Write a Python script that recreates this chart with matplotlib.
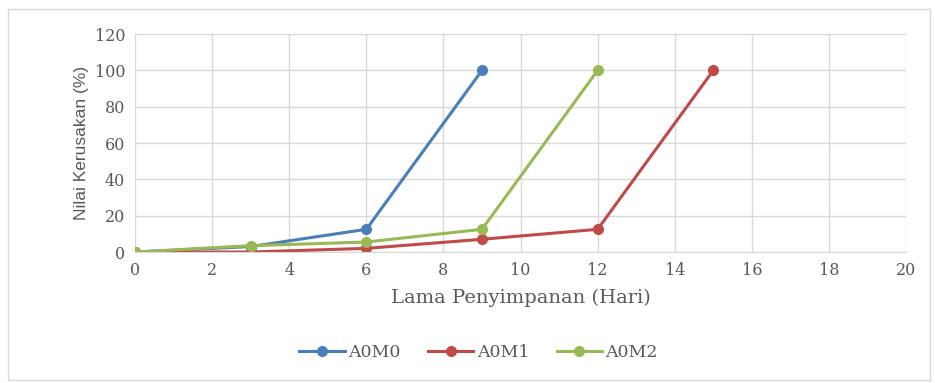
import matplotlib
matplotlib.use("Agg")
import matplotlib.pyplot as plt
from matplotlib.patches import Rectangle

# storage time (days) and damage values (%) per treatment
days_a0m0 = [0, 3, 6, 9]
damage_a0m0 = [0, 3, 12.5, 100]

days_a0m1 = [0, 3, 6, 9, 12, 15]
damage_a0m1 = [0, 0, 2, 7, 12.5, 100]

days_a0m2 = [0, 3, 6, 9, 12]
damage_a0m2 = [0, 3.5, 5.5, 12.5, 100]

series = [
    ("A0M0", days_a0m0, damage_a0m0, "#4a7ebb"),
    ("A0M1", days_a0m1, damage_a0m1, "#be4b48"),
    ("A0M2", days_a0m2, damage_a0m2, "#98b954"),
]

text_color = "#595959"
serif = ["DejaVu Serif"]

fig = plt.figure(figsize=(9.35, 3.83), dpi=100)
ax = fig.add_axes([0.1444, 0.342, 0.8246, 0.569])

for name, x, y, color in series:
    ax.plot(x, y, color=color, lw=2.2, marker="o", ms=7, label=name)

ax.set_xlim(0, 20)
ax.set_ylim(0, 120)
ax.set_xticks(range(0, 21, 2))
ax.set_yticks(range(0, 121, 20))
ax.grid(True, color="#d9d9d9", lw=1)
ax.set_axisbelow(True)
for side in ["top", "right", "left"]:
    ax.spines[side].set_visible(False)
ax.spines["bottom"].set_color("#d9d9d9")
ax.tick_params(length=0, pad=7, labelcolor=text_color)
for lbl in ax.get_xticklabels() + ax.get_yticklabels():
    lbl.set_fontfamily(serif)
    lbl.set_fontsize(11.5)

ax.set_xlabel("Lama Penyimpanan (Hari)", family=serif, fontsize=14,
              color=text_color, labelpad=7)
ax.set_ylabel("Nilai Kerusakan (%)", family=["Liberation Sans", "DejaVu Sans"],
              fontsize=12.5, color=text_color, labelpad=4)

leg = fig.legend(loc="center", bbox_to_anchor=(0.512, 0.08), ncol=3,
                 frameon=False, prop={"family": serif, "size": 12.5},
                 handlelength=2.6, columnspacing=1.6, handletextpad=0.2)
for t in leg.get_texts():
    t.set_color(text_color)

# light outer frame around the whole chart
fig.patches.append(Rectangle((8 / 935, 3 / 383), 922 / 935, 371 / 383,
                             transform=fig.transFigure, fill=False,
                             edgecolor="#d9d9d9", lw=1))

fig.savefig("out.png", dpi=100, facecolor="white")
